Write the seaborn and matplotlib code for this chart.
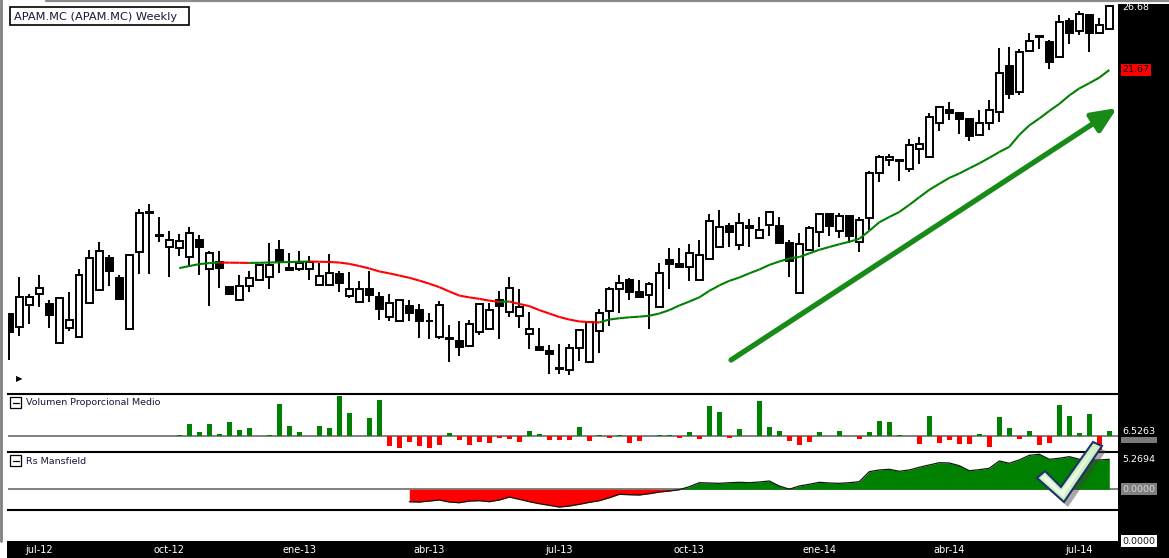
import numpy as np
import pandas as pd
import matplotlib
matplotlib.use("Agg")
import matplotlib.pyplot as plt
import seaborn as sns
from matplotlib.collections import LineCollection
from matplotlib.patches import Rectangle, Polygon
from matplotlib.lines import Line2D

# ---------------- data (weekly candles, index 0 = first week shown) ----------------
opens = [9.80, 9.40, 10.09, 10.46, 10.12, 8.91, 9.36, 9.09, 10.15, 10.59,
         11.75, 11.01, 9.33, 12.00, 13.62, 12.62, 12.21, 12.15, 11.79, 12.47,
         11.34, 11.60, 10.70, 10.25, 10.75, 10.94, 11.05, 12.07, 11.31, 11.34,
         11.34, 10.77, 10.77, 11.16, 10.39, 10.19, 10.62, 10.35, 9.70, 9.58,
         10.05, 9.92, 9.57, 9.09, 9.07, 8.97, 8.83, 9.24, 9.33, 10.25,
         9.86, 9.73, 9.18, 8.81, 8.68, 8.21, 8.17, 8.77, 8.38, 9.27,
         9.90, 10.62, 10.95, 10.52, 10.42, 10.04, 11.68, 11.53, 11.42, 10.94,
         11.72, 12.19, 13.04, 12.27, 12.96, 12.55, 13.08, 13.05, 12.35, 10.49,
         12.07, 12.79, 13.56, 12.84, 13.47, 12.39, 13.38, 15.48, 16.16, 16.10,
         15.70, 16.78, 16.34, 18.23, 19.03, 18.82, 18.48, 17.53, 18.23, 18.88,
         21.98, 20.18, 23.04, 24.16, 23.75, 22.61, 25.39, 24.61, 25.90, 24.45,
         24.75]
highs = [9.85, 11.06, 10.47, 11.13, 10.26, 10.35, 10.53, 11.35, 12.08, 12.41,
         11.88, 11.13, 11.88, 13.79, 14.02, 13.43, 12.85, 12.72, 13.00, 12.68,
         12.05, 12.05, 10.72, 11.13, 11.26, 11.54, 12.35, 12.48, 11.96, 12.02,
         11.85, 11.59, 11.91, 11.26, 11.24, 10.90, 11.26, 10.52, 10.47, 10.25,
         10.25, 10.12, 9.83, 10.22, 9.46, 9.57, 9.60, 10.15, 10.15, 10.58,
         11.05, 10.64, 9.86, 9.36, 8.86, 8.89, 8.89, 9.33, 9.54, 9.97,
         10.69, 11.13, 11.01, 10.95, 10.87, 11.56, 12.15, 12.15, 12.32, 12.48,
         13.57, 13.75, 13.17, 13.60, 13.34, 13.43, 13.64, 13.45, 12.48, 12.75,
         13.05, 13.56, 13.60, 13.60, 13.47, 13.45, 15.59, 16.45, 16.49, 16.23,
         17.32, 17.45, 18.84, 19.20, 19.51, 18.82, 18.48, 19.03, 19.66, 23.26,
         23.37, 23.17, 24.44, 24.25, 23.92, 25.90, 25.63, 26.25, 25.90, 25.63,
         26.77]
lows = [8.44, 9.13, 9.49, 10.04, 9.38, 8.91, 9.29, 9.09, 10.15, 10.59,
        10.74, 10.26, 9.33, 11.16, 11.17, 12.41, 11.07, 11.82, 11.44, 11.13,
        10.06, 10.68, 10.42, 10.25, 10.54, 10.94, 10.63, 11.20, 11.31, 11.26,
        10.95, 10.77, 10.77, 10.52, 10.32, 10.19, 10.19, 9.60, 9.59, 9.58,
        9.58, 9.08, 9.05, 9.05, 8.40, 8.56, 8.83, 9.15, 9.33, 9.05,
        9.72, 9.36, 8.74, 8.71, 8.08, 8.08, 8.05, 8.42, 8.38, 8.64,
        9.44, 9.83, 10.26, 10.35, 9.35, 10.04, 10.63, 11.44, 10.90, 10.94,
        11.72, 12.19, 12.19, 12.08, 12.21, 12.55, 12.62, 12.37, 11.05, 10.49,
        12.07, 12.21, 12.65, 12.55, 12.35, 12.00, 12.89, 15.08, 15.88, 15.12,
        15.54, 15.95, 16.34, 17.78, 18.42, 17.60, 17.19, 17.53, 17.84, 18.32,
        19.75, 20.00, 23.04, 23.21, 21.76, 22.61, 23.55, 24.30, 22.98, 24.45,
        24.67]
closes = [9.25, 10.36, 10.37, 10.66, 9.78, 10.32, 9.61, 11.12, 11.75, 12.03,
          11.26, 10.30, 11.87, 13.60, 13.66, 12.64, 12.47, 12.43, 12.75, 12.21,
          11.96, 11.40, 10.46, 10.75, 11.01, 11.49, 11.49, 11.60, 11.39, 11.56,
          11.62, 11.11, 11.20, 10.84, 10.64, 10.62, 10.42, 9.95, 10.15, 10.25,
          9.83, 9.58, 9.59, 10.09, 9.03, 8.80, 9.48, 10.12, 9.92, 10.05,
          10.66, 10.02, 9.33, 8.71, 8.62, 8.23, 8.77, 9.30, 9.54, 9.83,
          10.63, 10.84, 10.54, 10.35, 10.80, 11.20, 11.53, 11.44, 11.96, 11.87,
          13.25, 13.00, 12.79, 13.17, 13.04, 12.88, 13.64, 12.37, 11.64, 12.31,
          12.96, 13.56, 13.04, 13.47, 12.62, 13.29, 15.49, 16.34, 16.31, 16.12,
          16.97, 17.04, 18.60, 19.20, 18.86, 18.48, 17.51, 18.23, 19.01, 21.48,
          20.02, 22.97, 23.80, 24.20, 22.22, 25.31, 24.45, 25.97, 24.45, 25.05,
          26.68]

# moving average (starts at week 17)
ma_start = 17
ma_values = [11.38, 11.46, 11.53, 11.57, 11.59, 11.585, 11.58, 11.575, 11.58, 11.59,
             11.60, 11.61, 11.62, 11.63, 11.62, 11.61, 11.59, 11.54, 11.46, 11.37,
             11.26, 11.19, 11.11, 11.03, 10.93, 10.82, 10.70, 10.55, 10.41, 10.35,
             10.30, 10.24, 10.20, 10.21, 10.13, 10.06, 9.93, 9.82, 9.71, 9.63,
             9.57, 9.55, 9.54, 9.63, 9.67, 9.70, 9.72, 9.75, 9.82, 9.93,
             10.08, 10.21, 10.35, 10.57, 10.76, 10.92, 11.04, 11.19, 11.33, 11.50,
             11.63, 11.74, 11.80, 11.94, 12.08, 12.19, 12.30, 12.40, 12.52, 12.85,
             13.21, 13.44, 13.66, 13.98, 14.33, 14.68, 14.97, 15.26, 15.48, 15.74,
             16.00, 16.29, 16.60, 16.88, 17.55, 18.10, 18.51, 18.97, 19.41, 19.95,
             20.41, 20.76, 21.14, 21.67]

# "Volumen Proporcional Medio" (starts at week 17)
vol_start = 17
vol_values = [1.5, 16.7, 5.1, 16.7, 2.2, 21.0, 8.0, 12.3, 0.0, 1.5,
              47.0, 15.2, 5.1, 0.0, 13.8, 12.3, 58.7, 34.0, 0.0, 26.8,
              51.5, -14.5, -17.0, -8.7, -14.5, -17.0, -13.0, 4.4, -5.8, -13.0,
              -8.7, -10.2, -2.9, -4.4, -8.7, 7.3, 2.9, -5.8, -5.8, -5.8,
              13.0, -7.3, 1.5, -2.2, 1.5, -10.2, -7.3, 0.0, 1.5, 1.5,
              -2.2, 5.8, -4.4, 43.5, 34.8, -2.2, 10.2, 0.0, 50.8, 13.0,
              7.3, -7.3, -13.0, -8.7, 5.8, 0.0, 7.3, 0.0, -4.4, 5.8,
              21.8, 20.3, 1.5, 0.0, -11.6, 29.0, -10.2, -5.8, -11.6, -11.6,
              2.9, -16.0, 27.6, 11.6, -4.4, 7.3, -13.0, -10.2, 45.0, 29.0,
              4.4, 32.0, -20.3, 6.5263]

# "Rs Mansfield" (starts at week 40)
rs_start = 40
rs_values = [-2.18, -2.24, -2.06, -1.88, -2.24, -2.36, -2.06, -2.00, -2.18, -1.88,
             -1.36, -1.76, -2.18, -2.53, -2.82, -3.12, -2.94, -2.64, -2.29, -2.00,
             -1.48, -0.88, -0.95, -1.00, -0.77, -0.48, -0.30, -0.07, 0.46, 1.16,
             1.11, 1.05, 1.16, 1.23, 1.16, 1.28, 1.46, 0.58, 0.02, 0.58,
             0.88, 1.23, 1.11, 1.05, 1.16, 1.34, 3.10, 3.40, 3.52, 3.17,
             3.40, 3.87, 4.28, 4.68, 4.63, 4.15, 3.27, 3.45, 3.70, 4.98,
             4.58, 5.16, 5.98, 6.16, 5.28, 5.46, 5.74, 5.28, 5.16, 5.16,
             5.2694]

tick_weeks = [3, 16, 29, 42, 55, 68, 81, 94, 107]
tick_labels = ["jul-12", "oct-12", "ene-13", "abr-13", "jul-13",
               "oct-13", "ene-14", "abr-14", "jul-14"]

title_text = "APAM.MC (APAM.MC) Weekly"
vol_title = "Volumen Proporcional Medio"
rs_title = "Rs Mansfield"
last_price_label = "26.68"
ma_label = "21.67"
vol_label = "6.5263"
rs_label = "5.2694"
zero_label = "0.0000"

# ---------------- style ----------------
GREEN = "#008000"
RED = "#ff0000"
TXT = "#1a1538"

sns.set_theme(style="white")
plt.rcParams["font.family"] = ["DejaVu Sans"]

W_PX, H_PX = 1169, 558
fig = plt.figure(figsize=(11.69, 5.58), dpi=100)
fig.patch.set_facecolor("white")


def fx(px):
    return px / W_PX


def fy(py):
    return 1 - py / H_PX


def panel(top, bottom):
    a = fig.add_axes([fx(8), fy(bottom), fx(1118) - fx(8), fy(top) - fy(bottom)])
    a.set_facecolor("white")
    for s in a.spines.values():
        s.set_visible(False)
    a.set_xticks([])
    a.set_yticks([])
    return a


ax = panel(2, 394)
axv = panel(394, 452)
axr = panel(452, 510)
axe = panel(510, 541)

XLIM = (-0.13, 110.87)

# ---------------- price panel ----------------
o = np.array(opens)
h = np.array(highs)
l = np.array(lows)
c = np.array(closes)
idx = np.arange(len(o))

ax.set_yscale("log")
ax.yaxis.set_major_locator(plt.NullLocator())
ax.yaxis.set_minor_locator(plt.NullLocator())

ax.vlines(idx, l, h, color="black", lw=1.4, zorder=2)
bot = np.minimum(o, c)
top = np.maximum(np.maximum(o, c), bot * 1.003)
body_col = np.where(c >= o, "white", "black")
ax.bar(idx, top - bot, bottom=bot, width=0.64, color=body_col,
       edgecolor="black", linewidth=1.4, zorder=3)

ma = np.array(ma_values)
ma_idx = np.arange(ma_start, ma_start + len(ma))
pts = np.column_stack([ma_idx, ma])
segs = np.stack([pts[:-1], pts[1:]], axis=1)
seg_cols = np.where(np.diff(ma) >= 0, GREEN, RED)
ax.add_collection(LineCollection(segs, colors=seg_cols, linewidths=1.5,
                                 zorder=4, capstyle="butt"))

ax.set_xlim(*XLIM)
ax.set_ylim(7.56, 27.03)

# trend arrow
ax.annotate("", xy=(0.9991, 0.7296), xytext=(0.6514, 0.0867),
            xycoords="axes fraction", textcoords="axes fraction",
            annotation_clip=False,
            arrowprops=dict(arrowstyle="-|>,head_length=1.25,head_width=0.55",
                            color="#178a17", lw=3.8, mutation_scale=12,
                            shrinkA=0, shrinkB=0),
            zorder=5)

# ---------------- volume panel ----------------
vol = np.array(vol_values)
vol_df = pd.DataFrame({"week": np.arange(vol_start, vol_start + len(vol)),
                       "value": vol})
vol_df["sign"] = np.where(vol_df["value"] >= 0, "up", "down")
axv.axhline(0, color="#808080", lw=1.4, zorder=0.5)
sns.barplot(data=vol_df, x="week", y="value", hue="sign",
            palette={"up": GREEN, "down": RED}, native_scale=True,
            width=0.5, dodge=False, errorbar=None, legend=False,
            saturation=1, linewidth=0, ax=axv)
axv.set_xlabel("")
axv.set_ylabel("")
axv.set_xticks([])
axv.set_yticks([])
axv.set_xlim(*XLIM)
axv.set_ylim(-23.2, 60.9)
axv.spines["top"].set_visible(True)
axv.spines["top"].set_color("black")
axv.spines["top"].set_linewidth(1.5)

# ---------------- RS Mansfield panel ----------------
rs = np.array(rs_values)
rs_idx = np.arange(rs_start, rs_start + len(rs))
axr.axhline(0, color="#808080", lw=1.4, zorder=0.5)
axr.fill_between(rs_idx, 0, rs, where=rs >= 0, interpolate=True,
                 color=GREEN, lw=0, zorder=1)
axr.fill_between(rs_idx, 0, rs, where=rs < 0, interpolate=True,
                 color=RED, lw=0, zorder=1)
sns.lineplot(x=rs_idx, y=rs, color="#0b1a0b", lw=0.9, ax=axr, zorder=2)
axr.set_xlabel("")
axr.set_ylabel("")
axr.set_xticks([])
axr.set_yticks([])
axr.set_xlim(*XLIM)
axr.set_ylim(-3.64, 6.56)
axr.spines["top"].set_visible(True)
axr.spines["top"].set_color("black")
axr.spines["top"].set_linewidth(1.5)

# ---------------- empty bottom panel with date axis ----------------
axe.set_xlim(*XLIM)
axe.spines["top"].set_visible(True)
axe.spines["top"].set_color("black")
axe.spines["top"].set_linewidth(1.5)
axe.set_xticks(tick_weeks)
axe.set_xticklabels(tick_labels)
axe.tick_params(axis="x", length=0, pad=3, labelsize=7, labelcolor="white",
                bottom=True, labelbottom=True)

# ---------------- frame decorations ----------------
fig.add_artist(Rectangle((fx(1118), 0), 1 - fx(1118), fy(4),
                         transform=fig.transFigure, fc="black", ec="none", zorder=-1))
fig.add_artist(Rectangle((fx(7), 0), 1 - fx(7), 1 - fy(541) if False else fy(541),
                         transform=fig.transFigure, fc="black", ec="none", zorder=-1))
fig.add_artist(Line2D([fx(46), 1], [fy(1), fy(1)], transform=fig.transFigure,
                      color="#8a8a8a", lw=1.6, zorder=6))
fig.add_artist(Line2D([fx(1), fx(1)], [fy(541), 1], transform=fig.transFigure,
                      color="#808080", lw=2.0, zorder=6))

# title box
fig.add_artist(Rectangle((fx(10), fy(25)), fx(189) - fx(10), fy(7) - fy(25),
                         transform=fig.transFigure, fc="white", ec="black",
                         lw=1.2, zorder=6))
fig.text(fx(14), fy(16.5), title_text, fontsize=8.2, color=TXT,
         va="center", ha="left", zorder=7)


def minus_box(px, py):
    fig.add_artist(Rectangle((fx(px), fy(py + 11)), fx(11), fy(py) - fy(py + 11),
                             transform=fig.transFigure, fill=False, ec="black",
                             lw=0.9, zorder=6))
    fig.add_artist(Line2D([fx(px + 2.5), fx(px + 8.5)], [fy(py + 5.5), fy(py + 5.5)],
                          transform=fig.transFigure, color="black", lw=0.9, zorder=6))


minus_box(10, 397)
fig.text(fx(26), fy(402.5), vol_title, fontsize=6.8, color=TXT, va="center", ha="left")
minus_box(10, 455)
fig.text(fx(26), fy(461), rs_title, fontsize=6.8, color=TXT, va="center", ha="left")

fig.text(fx(16), fy(379), "\u25B6", fontsize=6, color="black", va="center", ha="left")

# right-side value labels
fig.text(fx(1122), fy(7.5), last_price_label, fontsize=6.8, color="white",
         va="center", ha="left")
fig.text(fx(1122.5), fy(70), ma_label, fontsize=6.8, color="black", va="center",
         ha="left", bbox=dict(boxstyle="square,pad=0.15", fc=RED, ec="none"))
fig.add_artist(Rectangle((fx(1121), fy(443)), fx(36), fy(437) - fy(443),
                         transform=fig.transFigure, fc="#7a7a7a", ec="none", zorder=2))
fig.text(fx(1122), fy(432), vol_label, fontsize=6.8, color="white", va="center", ha="left")
fig.text(fx(1122), fy(460), rs_label, fontsize=6.8, color="white", va="center", ha="left")
fig.text(fx(1122.5), fy(489), zero_label, fontsize=6.8, color="#d8d8d8", va="center",
         ha="left", bbox=dict(boxstyle="square,pad=0.2", fc="#7f7f7f", ec="none"))
fig.text(fx(1122.5), fy(541), zero_label, fontsize=6.8, color="#1a1a1a", va="center",
         ha="left", bbox=dict(boxstyle="square,pad=0.12", fc="white", ec="none"))

# check mark
check_px = [(1037, 478), (1045, 471), (1061, 487), (1093, 442),
            (1102, 446), (1064, 502)]
shadow = Polygon([(fx(x + 4), fy(y + 5)) for x, y in check_px], closed=True,
                 transform=fig.transFigure, fc="#404040", ec="none", alpha=0.45, zorder=9)
fig.add_artist(shadow)
check = Polygon([(fx(x), fy(y)) for x, y in check_px], closed=True,
                transform=fig.transFigure, fc="#cdefc2", ec="#22306a", lw=1.5, zorder=10)
fig.add_artist(check)
inner_px = [(1041, 478), (1045, 475), (1061, 491), (1096, 446), (1063, 497)]
fig.add_artist(Polygon([(fx(x), fy(y)) for x, y in inner_px], closed=True,
                       transform=fig.transFigure, fc="#f2fff0", ec="none",
                       alpha=0.8, zorder=11))

fig.savefig("out.png", dpi=100)
